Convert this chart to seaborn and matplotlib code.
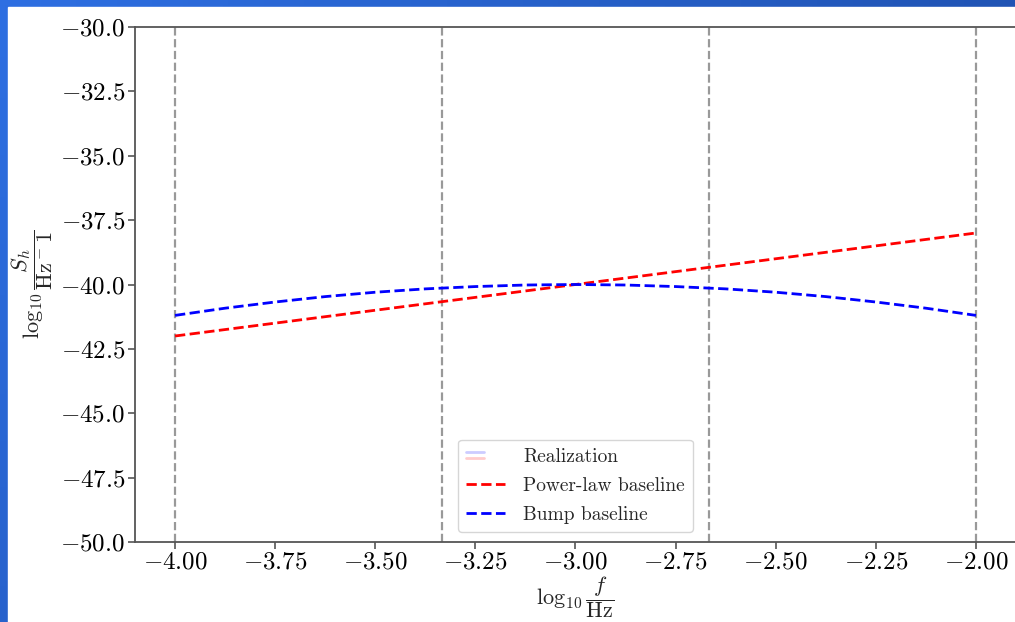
import numpy as np
import pandas as pd
import matplotlib
matplotlib.use("Agg")
import matplotlib.pyplot as plt
from matplotlib.lines import Line2D
from matplotlib.legend_handler import HandlerBase
from matplotlib.patches import Rectangle
from matplotlib.colors import LinearSegmentedColormap
import seaborn as sns

# log10 frequency grid and the two baseline spectra
log_f = [-4.0, -3.875, -3.75, -3.625, -3.5, -3.375, -3.25, -3.125, -3.0,
         -2.875, -2.75, -2.625, -2.5, -2.375, -2.25, -2.125, -2.0]
power_law = [-42.0, -41.75, -41.5, -41.25, -41.0, -40.75, -40.5, -40.25, -40.0,
             -39.75, -39.5, -39.25, -39.0, -38.75, -38.5, -38.25, -38.0]
bump = [-41.20, -40.92, -40.68, -40.47, -40.30, -40.17, -40.08, -40.02, -40.00,
        -40.02, -40.08, -40.17, -40.30, -40.47, -40.68, -40.92, -41.20]
# frequency bin edges
bin_edges = [-4.0, -3.3333, -2.6667, -2.0]

x_ticks = [-4.0, -3.75, -3.5, -3.25, -3.0, -2.75, -2.5, -2.25, -2.0]
y_ticks = [-50.0, -47.5, -45.0, -42.5, -40.0, -37.5, -35.0, -32.5, -30.0]

sns.set_style("ticks")
plt.rcParams.update({
    "font.family": "serif",
    "font.serif": ["cmr10"],
    "mathtext.fontset": "cm",
    "axes.formatter.use_mathtext": True,
    "axes.unicode_minus": True,
    "axes.edgecolor": "#555555",
    "xtick.color": "#555555",
    "ytick.color": "#555555",
    "xtick.labelcolor": "black",
    "ytick.labelcolor": "black",
})

df = pd.DataFrame({"log_f": log_f, "power_law": power_law, "bump": bump})

fig = plt.figure(figsize=(10.15, 6.22), dpi=100)

# slide backdrop with a blue gradient frame
bg = fig.add_axes([0, 0, 1, 1], zorder=-10)
bg.set_axis_off()
gx, gy = np.meshgrid(np.linspace(0, 1, 200), np.linspace(0, 1, 120))
grad = 0.75 * gx + 0.35 * gy
cmap = LinearSegmentedColormap.from_list("frame", ["#2e6fe2", "#1a479f"])
bg.imshow(grad, cmap=cmap, aspect="auto", extent=[0, 1, 0, 1], vmin=0, vmax=1.1)
bg.add_patch(Rectangle((8 / 1015, 0), 1, 1 - 7 / 622, color="white",
                       transform=bg.transAxes))
bg.set_xlim(0, 1)
bg.set_ylim(0, 1)

ax = fig.add_axes([135 / 1015, 1 - 542 / 622, 881 / 1015, 515 / 622])
ax.set_facecolor("white")

for edge in bin_edges:
    ax.axvline(edge, color="gray", ls="--", lw=1.6, alpha=0.8, zorder=1)

sns.lineplot(data=df, x="log_f", y="power_law", ax=ax, color="red",
             ls="--", lw=2, zorder=3)
sns.lineplot(data=df, x="log_f", y="bump", ax=ax, color="blue",
             ls="--", lw=2, zorder=3)

ax.set_xlim(-4.1, -1.9)
ax.set_ylim(-50, -30)
ax.set_xticks(x_ticks)
ax.set_yticks(y_ticks)
ax.xaxis.set_major_formatter(matplotlib.ticker.FormatStrFormatter(r"$%.2f$"))
ax.yaxis.set_major_formatter(matplotlib.ticker.FormatStrFormatter(r"$%.1f$"))
ax.tick_params(labelsize=18, length=5, width=1.2, pad=2)
for s in ax.spines.values():
    s.set_linewidth(1.3)

ax.set_xlabel(r"$\log_{10}\dfrac{f}{\mathrm{Hz}}$", fontsize=16, labelpad=0)
ax.set_ylabel(r"$\log_{10}\dfrac{S_h}{\mathrm{Hz}^-1}$", fontsize=16, labelpad=4)


class RealizationHandler(HandlerBase):
    def create_artists(self, legend, orig_handle, xdescent, ydescent,
                       width, height, fontsize, trans):
        w = width * 0.45
        yc = height / 2 - ydescent
        top = Line2D([-xdescent, -xdescent + w], [yc + 2.2, yc + 2.2],
                     color="blue", alpha=0.2, lw=2, transform=trans)
        bot = Line2D([-xdescent, -xdescent + w], [yc - 2.2, yc - 2.2],
                     color="red", alpha=0.2, lw=2, transform=trans)
        return [top, bot]


realization = Line2D([], [], color="blue")
pl_handle = Line2D([], [], color="red", ls="--", lw=2)
bump_handle = Line2D([], [], color="blue", ls="--", lw=2)
ax.legend([realization, pl_handle, bump_handle],
          ["Realization", "Power-law baseline", "Bump baseline"],
          loc="lower center", fontsize=14, handlelength=2.0,
          handler_map={realization: RealizationHandler()},
          frameon=True, framealpha=0.8, edgecolor="#cccccc",
          borderaxespad=0.5, labelspacing=0.55, handletextpad=0.9,
          borderpad=0.45)

fig.savefig("out.png", dpi=100)
